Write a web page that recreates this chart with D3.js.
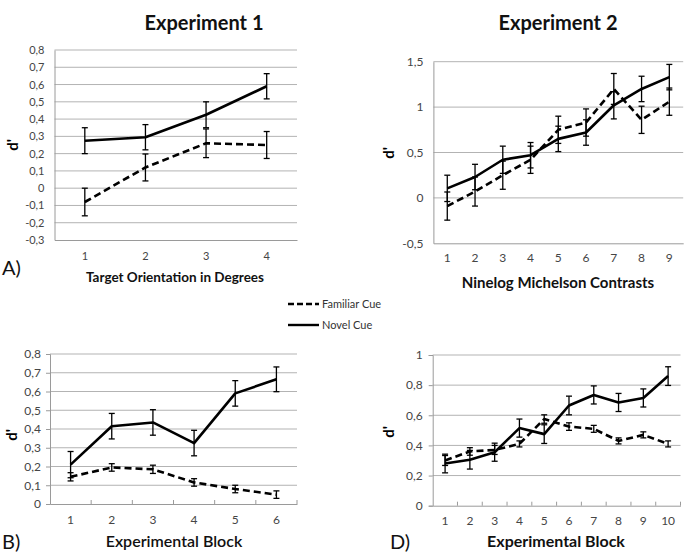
<!DOCTYPE html>
<html><head><meta charset="utf-8">
<script src="https://cdn.jsdelivr.net/npm/d3@7"></script>
<style>body{margin:0;background:#fff}svg{display:block}</style>
</head><body>
<script>
// ---------- DATA ----------
const catsA = ["1","2","3","4"];
const novelA = [0.275, 0.295, 0.425, 0.59];
const novelErrA = [0.075, 0.073, 0.075, 0.073];
const famA = [-0.08, 0.12, 0.26, 0.25];
const famErrA = [0.08, 0.078, 0.083, 0.078];
const yTicksA = [-0.3,-0.2,-0.1,0,0.1,0.2,0.3,0.4,0.5,0.6,0.7,0.8];

const catsB = ["1","2","3","4","5","6"];
const novelB = [0.21, 0.415, 0.435, 0.325, 0.59, 0.665];
const novelErrB = [0.07, 0.068, 0.068, 0.068, 0.068, 0.066];
const famB = [0.145, 0.195, 0.185, 0.115, 0.08, 0.05];
const famErrB = [0.022, 0.02, 0.022, 0.02, 0.02, 0.02];
const yTicksB = [0,0.1,0.2,0.3,0.4,0.5,0.6,0.7,0.8];

const catsC = ["1","2","3","4","5","6","7","8","9"];
const novelC = [0.105, 0.23, 0.42, 0.47, 0.65, 0.72, 1.02, 1.2, 1.33];
const novelErrC = [0.145, 0.14, 0.15, 0.14, 0.14, 0.14, 0.15, 0.14, 0.14];
const famC = [-0.09, 0.07, 0.25, 0.42, 0.75, 0.83, 1.2, 0.86, 1.06];
const famErrC = [0.155, 0.16, 0.155, 0.15, 0.15, 0.15, 0.17, 0.15, 0.15];
const yTicksC = [-0.5,0,0.5,1,1.5];

const catsD = ["1","2","3","4","5","6","7","8","9","10"];
const novelD = [0.28, 0.305, 0.355, 0.515, 0.475, 0.665, 0.735, 0.685, 0.715, 0.86];
const novelErrD = [0.062, 0.062, 0.06, 0.06, 0.062, 0.062, 0.06, 0.06, 0.06, 0.062];
const famD = [0.3, 0.36, 0.37, 0.41, 0.575, 0.525, 0.51, 0.43, 0.47, 0.41];
const famErrD = [0.033, 0.025, 0.03, 0.02, 0.028, 0.025, 0.023, 0.02, 0.02, 0.02];
const yTicksD = [0,0.2,0.4,0.6,0.8,1];

const seriesNames = ["Familiar Cue","Novel Cue"];

// ---------- DRAW ----------
const W = 687, H = 559;
const svg = d3.select("body").append("svg").attr("width", W).attr("height", H);
const FONT = "Lato, 'Open Sans', sans-serif";
const fmt = v => (Math.round(v*10)/10).toString().replace(".", ",");

function panel(o) {
  const g = svg.append("g");
  const x = d3.scaleBand().domain(o.cats).range(o.xr);
  const y = d3.scaleLinear().domain(o.yd).range(o.yr);
  const cx = c => x(c) + x.bandwidth()/2;
  // gridlines
  g.selectAll(".grid").data(o.yt.filter(v => v !== o.yd[0])).enter().append("line")
    .attr("x1", o.xr[0]).attr("x2", o.xr[1])
    .attr("y1", d => y(d)).attr("y2", d => y(d))
    .attr("stroke", "#b3b3b3").attr("stroke-width", 1);
  // y axis
  const ya = d3.axisLeft(y).tickValues(o.yt).tickFormat(o.fmt).tickSize(o.yTick).tickPadding(o.pad);
  const yg = g.append("g").attr("transform", `translate(${o.xr[0]},0)`).call(ya);
  yg.select(".domain").attr("stroke", "#9a9a9a");
  yg.selectAll(".tick line").attr("stroke", "#9a9a9a");
  yg.selectAll("text").attr("font-family", FONT).attr("font-size", o.fs).attr("fill", "#454545");
  // x axis
  const xa = d3.axisBottom(x).tickSize(0).tickPadding(o.xpad);
  const xg = g.append("g").attr("transform", `translate(0,${o.yr[0]})`).call(xa);
  xg.select(".domain").attr("stroke", "#9a9a9a");
  xg.selectAll("text").attr("font-family", FONT).attr("font-size", o.fs).attr("fill", "#454545");
  if (o.xTicks) {
    const bounds = o.cats.map(c => x(c)).concat([x(o.cats[o.cats.length-1]) + x.bandwidth()]);
    g.selectAll(".xt").data(bounds.slice(1)).enter().append("line")
      .attr("x1", d => d).attr("x2", d => d)
      .attr("y1", o.yr[0]).attr("y2", o.yr[0] - 4)
      .attr("stroke", "#9a9a9a");
  }
  const line = d3.line().x((d,i) => cx(o.cats[i])).y(d => y(d));
  function series(vals, errs, dash) {
    g.append("path").datum(vals).attr("d", line)
      .attr("fill", "none").attr("stroke", "#000").attr("stroke-width", 2.6)
      .attr("stroke-dasharray", dash ? "7,4" : null).attr("stroke-linejoin", "round");
    const eb = g.append("g");
    vals.forEach((v,i) => {
      const X = cx(o.cats[i]);
      const lo = y(v - errs[i]), hi = y(v + errs[i]);
      eb.append("line").attr("x1", X).attr("x2", X).attr("y1", lo).attr("y2", hi).attr("stroke", "#000").attr("stroke-width", 1.3);
      [lo, hi].forEach(yy => eb.append("line").attr("x1", X-3).attr("x2", X+3).attr("y1", yy).attr("y2", yy).attr("stroke", "#000").attr("stroke-width", 1.3));
    });
  }
  series(o.fam, o.famErr, true);
  series(o.novel, o.novelErr, false);
  // y label
  g.append("text").attr("transform", `translate(${o.ylab[0]},${o.ylab[1]}) rotate(-90)`)
    .attr("text-anchor", "middle").attr("font-family", FONT).attr("font-weight", "bold")
    .attr("font-size", 15).text("d'");
  // x title
  g.append("text").attr("x", o.xt[0]).attr("y", o.xt[1]).attr("text-anchor", "middle")
    .attr("font-family", FONT).attr("font-weight", o.xtw).attr("font-size", o.xts).attr("fill", "#111")
    .text(o.xtitle);
  if (o.letter) g.append("text").attr("x", o.letter[0]).attr("y", o.letter[1])
    .attr("font-family", FONT).attr("font-size", 20).attr("fill", "#111").text(o.letter[2]);
}

panel({cats: catsA, novel: novelA, novelErr: novelErrA, fam: famA, famErr: famErrA,
  xr: [54.5, 297], yd: [-0.3, 0.8], yr: [240, 50], yt: yTicksA, fmt: fmt, fs: 11, yTick: 0, pad: 10, xpad: 12,
  xTicks: false, ylab: [18, 145], xt: [175, 282], xtitle: "Target Orientation in Degrees", xtw: "bold", xts: 13.5,
  letter: [2, 275, "A)"]});
panel({cats: catsB, novel: novelB, novelErr: novelErrB, fam: famB, famErr: famErrB,
  xr: [50, 297], yd: [0, 0.8], yr: [504, 354], yt: yTicksB, fmt: fmt, fs: 12, yTick: 4, pad: 5, xpad: 11,
  xTicks: true, ylab: [17, 435], xt: [174, 547], xtitle: "Experimental Block", xtw: 600, xts: 16,
  letter: [2, 549, "B)"]});
panel({cats: catsC, novel: novelC, novelErr: novelErrC, fam: famC, famErr: famErrC,
  xr: [433.4, 683.2], yd: [-0.5, 1.5], yr: [243.3, 61.7], yt: yTicksC, fmt: fmt, fs: 12, yTick: 0, pad: 10, xpad: 10,
  xTicks: false, ylab: [394, 153], xt: [558, 288], xtitle: "Ninelog Michelson Contrasts", xtw: "bold", xts: 15,
  letter: null});
panel({cats: catsD, novel: novelD, novelErr: novelErrD, fam: famD, famErr: famErrD,
  xr: [432.7, 680.5], yd: [0, 1], yr: [505.7, 355], yt: yTicksD, fmt: fmt, fs: 12, yTick: 4, pad: 6, xpad: 11,
  xTicks: true, ylab: [394, 432], xt: [556, 547], xtitle: "Experimental Block", xtw: "bold", xts: 16,
  letter: [390, 549, "D)"]});

// titles
svg.append("text").attr("x", 204).attr("y", 30).attr("text-anchor", "middle")
  .attr("font-family", FONT).attr("font-weight", "bold").attr("font-size", 20).attr("fill", "#111").text("Experiment 1");
svg.append("text").attr("x", 558).attr("y", 30).attr("text-anchor", "middle")
  .attr("font-family", FONT).attr("font-weight", "bold").attr("font-size", 20).attr("fill", "#111").text("Experiment 2");

// legend
const leg = svg.append("g");
seriesNames.forEach((n, i) => {
  const yy = 304 + i * 21;
  leg.append("line").attr("x1", 288).attr("x2", 319).attr("y1", yy).attr("y2", yy)
    .attr("stroke", "#000").attr("stroke-width", 2.4).attr("stroke-dasharray", i === 0 ? "6,3" : null);
  leg.append("text").attr("x", 322).attr("y", yy + 4).attr("font-family", FONT).attr("font-size", 11)
    .attr("fill", "#333").text(n);
});
</script>
</body></html>
